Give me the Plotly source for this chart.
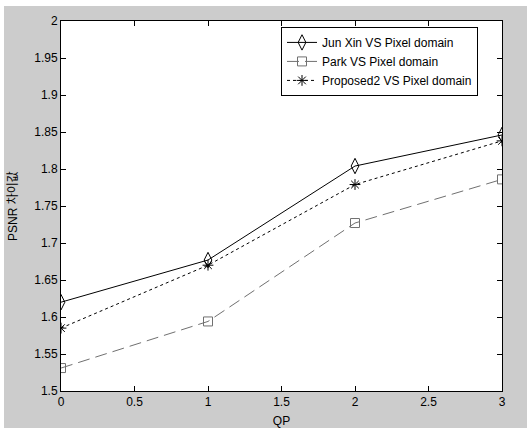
import plotly.graph_objects as go

qp = [0, 1, 2, 3]
jun_xin = [1.620, 1.677, 1.804, 1.846]
park = [1.531, 1.594, 1.727, 1.786]
proposed2 = [1.585, 1.670, 1.779, 1.838]

names = ["Jun Xin VS Pixel domain", "Park VS Pixel domain", "Proposed2 VS Pixel domain"]
x_ticks = [0, 0.5, 1, 1.5, 2, 2.5, 3]
y_ticks = [1.5, 1.55, 1.6, 1.65, 1.7, 1.75, 1.8, 1.85, 1.9, 1.95, 2]
y_tick_text = ["1.5", "1.55", "1.6", "1.65", "1.7", "1.75", "1.8", "1.85", "1.9", "1.95", "2"]
x_tick_text = ["0", "0.5", "1", "1.5", "2", "2.5", "3"]

FONT = "Liberation Sans, Arial, Noto Sans CJK KR, sans-serif"

fig = go.Figure()
fig.add_trace(go.Scatter(
    x=qp, y=jun_xin, name=names[0], mode="lines+markers",
    line=dict(color="black", width=1),
    marker=dict(symbol="diamond-tall-open", size=11, color="black", line=dict(width=1)),
))
fig.add_trace(go.Scatter(
    x=qp, y=park, name=names[1], mode="lines+markers",
    line=dict(color="#707070", width=1, dash="12px,6px"),
    marker=dict(symbol="square-open", size=9, color="#707070", line=dict(width=1)),
))
fig.add_trace(go.Scatter(
    x=qp, y=proposed2, name=names[2], mode="lines+markers",
    line=dict(color="black", width=1, dash="3px,3px"),
    marker=dict(symbol="asterisk-open", size=9, color="black", line=dict(width=1, color="black")),
))

axis_common = dict(
    showline=True, linecolor="black", linewidth=1, mirror="ticks",
    ticks="inside", ticklen=5, tickcolor="black", tickwidth=1,
    showgrid=False, zeroline=False,
    tickfont=dict(family=FONT, size=12, color="black"),
)

fig.update_xaxes(range=[0, 3], tickvals=x_ticks, ticktext=x_tick_text,
                 title=dict(text="QP", font=dict(family=FONT, size=12, color="black"), standoff=9),
                 **axis_common)
fig.update_yaxes(range=[1.5, 2], tickvals=y_ticks, ticktext=y_tick_text,
                 title=dict(text="PSNR 차이값", font=dict(family=FONT, size=12, color="black"), standoff=14),
                 **axis_common)

fig.update_layout(
    width=523, height=422,
    margin=dict(l=57, r=25, t=15, b=37, autoexpand=False),
    paper_bgcolor="#cccccc", plot_bgcolor="white",
    showlegend=True,
    legend=dict(x=0.4989, y=0.984, xanchor="left", yanchor="top",
                bgcolor="white", bordercolor="black", borderwidth=1,
                font=dict(family=FONT, size=12, color="black"),
                itemwidth=30, tracegroupgap=0),
)

fig.write_html(
    "out.html",
    config={"displayModeBar": False},
    post_script="document.body.style.margin='6px 0 0 4px';document.body.style.background='white';document.body.style.overflow='hidden';",
)
